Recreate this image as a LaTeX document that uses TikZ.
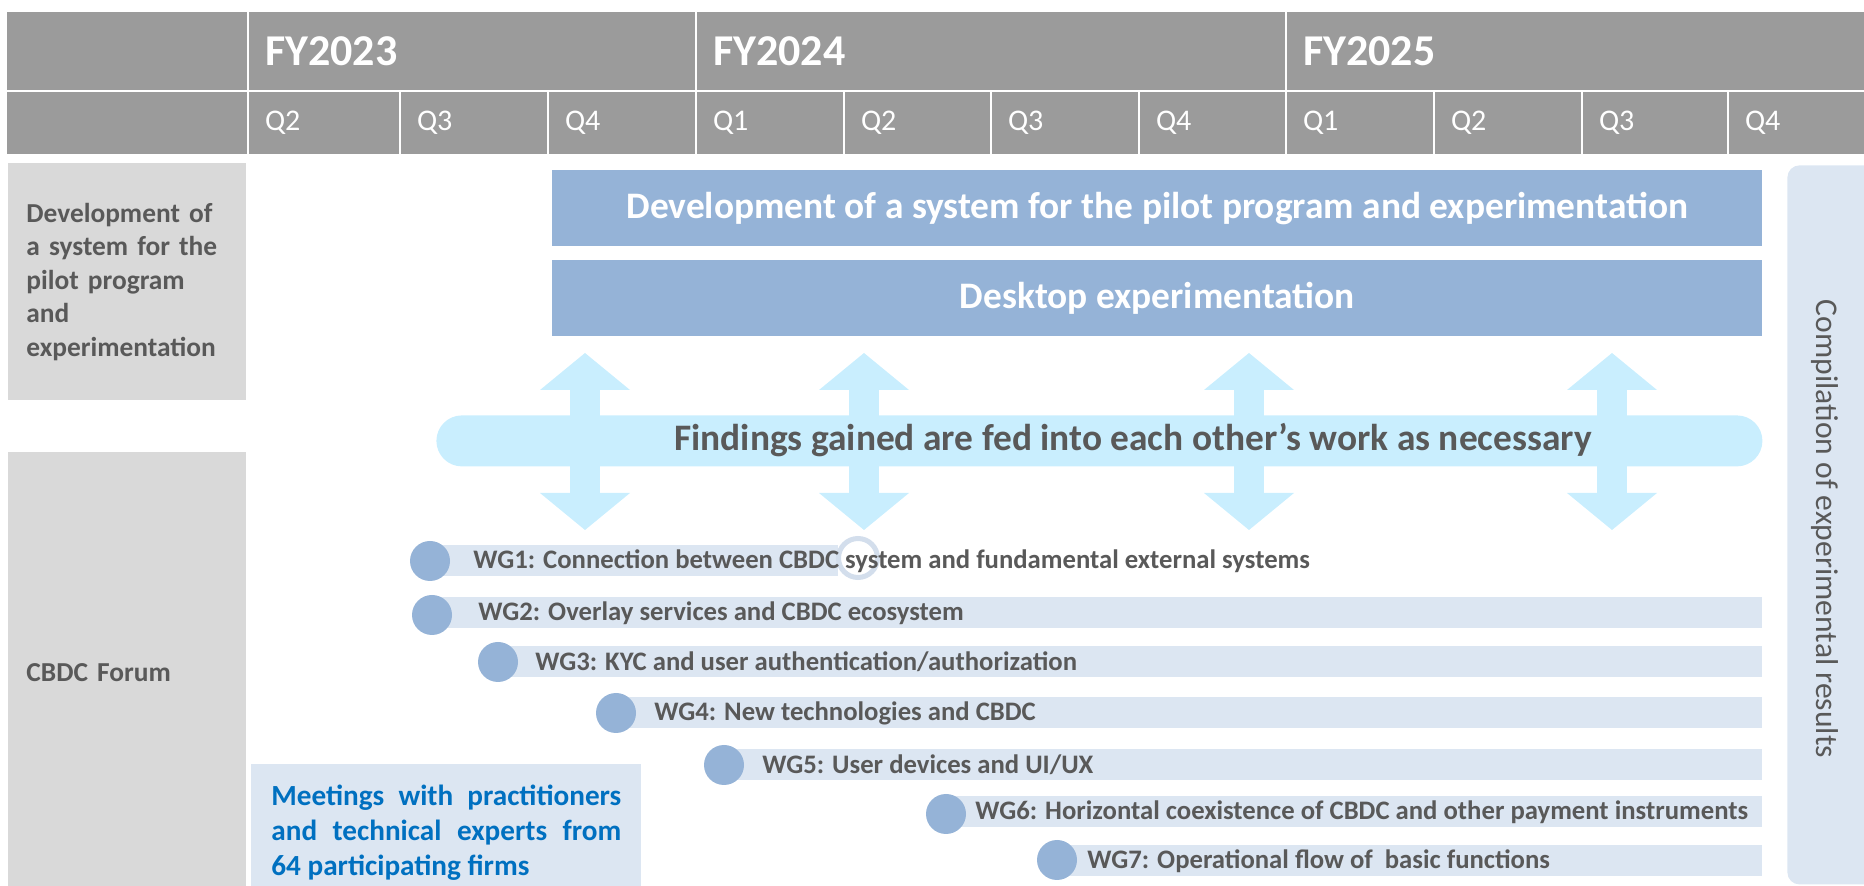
\documentclass[tikz,border=0pt]{standalone}
\usepackage{fontspec}
\setmainfont{Carlito}
\usetikzlibrary{arrows.meta}

\definecolor{hdrgrey}{HTML}{9B9B9B}
\definecolor{sidegrey}{HTML}{D9D9D9}
\definecolor{barblue}{HTML}{95B3D7}
\definecolor{paleblue}{HTML}{DCE6F2}
\definecolor{feedcyan}{HTML}{C9EEFE}
\definecolor{labelgrey}{HTML}{595959}
\definecolor{meetblue}{HTML}{0070C0}
\definecolor{ringblue}{HTML}{D3DEEC}

\tikzset{
	hdrcell/.style={fill=hdrgrey, draw=white, line width=1pt, anchor=north west, inner xsep=8.5pt, inner ysep=0pt, align=left, text=white},
	yearcell/.style={hdrcell, minimum height=40pt, font=\bfseries\fontsize{22}{24}\selectfont},
	qcell/.style={hdrcell, minimum height=32pt, font=\fontsize{15}{18}\selectfont},
	sidebox/.style={fill=sidegrey, anchor=north west, inner xsep=9pt, align=left, text=labelgrey, font=\bfseries\fontsize{13.7}{16.75}\selectfont},
	phasebar/.style={fill=barblue, anchor=north west, minimum width=605pt, minimum height=38pt, text=white, font=\bfseries\fontsize{18.7}{22}\selectfont},
	findbar/.style={fill=feedcyan, anchor=north west, minimum width=663pt, minimum height=25.5pt, rounded corners=12.75pt},
	findtext/.style={text=labelgrey, inner sep=0pt, font=\bfseries\fontsize{18.7}{22}\selectfont},
	feed/.style={color=feedcyan, line width=15pt, {Triangle[width=45pt,length=18.5pt,line width=0pt]}-{Triangle[width=45pt,length=18.5pt,line width=0pt]}},
	wgbar/.style={fill=paleblue, anchor=west, minimum height=15.5pt, inner sep=0pt},
	wgdot/.style={circle, fill=barblue, minimum size=20pt, inner sep=0pt},
	wgring/.style={circle, draw=ringblue, line width=2.5pt, minimum size=19.5pt, inner sep=0pt},
	wgtext/.style={anchor=west, inner sep=0pt, text=labelgrey, font=\bfseries\fontsize{13.35}{16}\selectfont},
}

\begin{document}
\begin{tikzpicture}[x=0.5pt, y=-0.5pt]
	
	\useasboundingbox (0, 0) rectangle (1864, 886);
	\clip (0, 0) rectangle (1864, 886);
	
	\node[yearcell, text width=104pt] (yr0) at (5, 10) {};
	\node[yearcell, text width=207pt] (fy23) at (247, 10) {FY2023};
	\node[yearcell, text width=278pt] (fy24) at (695, 10) {FY2024};
	\node[yearcell, text width=274pt] (fy25) at (1285, 10) {FY2025};
	
	\node[qcell, text width=104pt] (q0) at (5, 90) {};
	\node[qcell, text width=59pt] (q1) at (247, 90) {Q2};
	\node[qcell, text width=57pt] (q2) at (399, 90) {Q3};
	\node[qcell, text width=57pt] (q3) at (547, 90) {Q4};
	\node[qcell, text width=57pt] (q4) at (695, 90) {Q1};
	\node[qcell, text width=56.5pt] (q5) at (843, 90) {Q2};
	\node[qcell, text width=57pt] (q6) at (990, 90) {Q3};
	\node[qcell, text width=56.5pt] (q7) at (1138, 90) {Q4};
	\node[qcell, text width=57pt] (q8) at (1285, 90) {Q1};
	\node[qcell, text width=57pt] (q9) at (1433, 90) {Q2};
	\node[qcell, text width=56pt] (q10) at (1581, 90) {Q3};
	\node[qcell, text width=54pt] (q11) at (1727, 90) {Q4};
	
	\node[sidebox, text width=101pt, minimum height=118.5pt] (devside) at (8, 163) {Development of\\a system for the\\pilot program\\and\\experimentation};
	\node[sidebox, text width=101pt, minimum height=220pt] (forumside) at (8, 452) {CBDC Forum};
	
	\node[phasebar] (devbar) at (552, 170) {Development of a system for the pilot program and experimentation};
	\node[phasebar] (deskbar) at (552, 260) {Desktop experimentation};
	
	\node[fill=paleblue, anchor=north west, minimum width=50pt, minimum height=359.5pt, rounded corners=6pt] (compbox) at (1787, 165) {};
	\node[rotate=-90, text=labelgrey, font=\fontsize{15.8}{18}\selectfont] (comp) at (1825, 529) {Compilation of experimental results};
	
	\node[findbar] (findbar) at (436, 415) {};
	\coordinate (f1t) at (585, 353);
	\coordinate (f1b) at (585, 530);
	\coordinate (f2t) at (864, 353);
	\coordinate (f2b) at (864, 530);
	\coordinate (f3t) at (1249, 353);
	\coordinate (f3b) at (1249, 530);
	\coordinate (f4t) at (1612, 353);
	\coordinate (f4b) at (1612, 530);
	\path[feed] (f1t) edge (f1b);
	\path[feed] (f2t) edge (f2b);
	\path[feed] (f3t) edge (f3b);
	\path[feed] (f4t) edge (f4b);
	\node[findtext] (findings) at (1133, 440) {Findings gained are fed into each other’s work as necessary};
	
	\node[wgbar, minimum width=204pt] (wg1bar) at (430, 561) {};
	\node[wgbar, minimum width=665pt] (wg2bar) at (432, 613) {};
	\node[wgbar, minimum width=632pt] (wg3bar) at (498, 662) {};
	\node[wgbar, minimum width=573pt] (wg4bar) at (616, 713) {};
	\node[wgbar, minimum width=519pt] (wg5bar) at (724, 765) {};
	\node[wgbar, minimum width=408pt] (wg6bar) at (946, 812) {};
	\node[wgbar, minimum width=352.5pt] (wg7bar) at (1057, 861) {};
	
	\node[wgring] (wg1ring) at (858, 558) {};
	
	\node[wgdot] (wg1dot) at (wg1bar.west) {};
	\node[wgdot] (wg2dot) at ([yshift=-1pt]wg2bar.west) {};
	\node[wgdot] (wg3dot) at (wg3bar.west) {};
	\node[wgdot] (wg4dot) at (wg4bar.west) {};
	\node[wgdot] (wg5dot) at (wg5bar.west) {};
	\node[wgdot] (wg6dot) at ([yshift=-1pt]wg6bar.west) {};
	\node[wgdot] (wg7dot) at ([yshift=0.5pt]wg7bar.west) {};
	
	\node[wgtext] (wg1) at (473, 561) {WG1: Connection between CBDC system and fundamental external systems};
	\node[wgtext] (wg2) at (478, 613) {WG2: Overlay services and CBDC ecosystem};
	\node[wgtext] (wg3) at (535, 662) {WG3: KYC and user authentication/authorization};
	\node[wgtext] (wg4) at (654, 713) {WG4: New technologies and CBDC};
	\node[wgtext] (wg5) at (762, 765) {WG5: User devices and UI/UX};
	\node[wgtext] (wg6) at (975, 812) {WG6: Horizontal coexistence of CBDC and other payment instruments};
	\node[wgtext] (wg7) at (1087, 861) {WG7: Operational flow of \ basic functions};
	
	\node[fill=paleblue, anchor=north west, text width=175pt, inner xsep=10pt, minimum height=68pt, align=justify, text=meetblue, font=\bfseries\fontsize{14.6}{17.5}\selectfont] (meet) at (251, 764) {Meetings with practitioners\linebreak and technical experts from\linebreak 64 participating firms};
	
\end{tikzpicture}
\end{document}
